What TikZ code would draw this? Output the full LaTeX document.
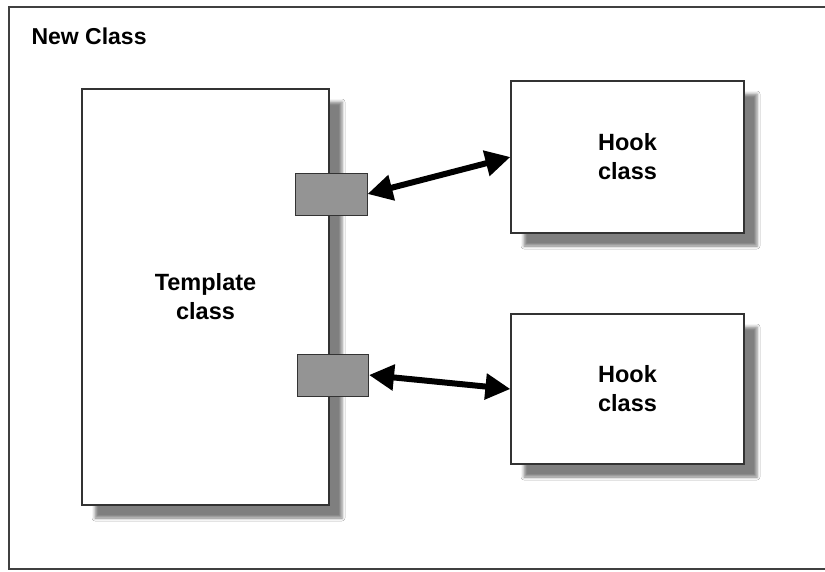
\documentclass[tikz,border=0pt]{standalone}
\usepackage{fontspec}
\setmainfont{Liberation Sans}
\usetikzlibrary{arrows.meta,shadows.blur}

\tikzset{
  classbox/.style={draw=black!80, line width=1.2pt, fill=white,
    blur shadow={shadow xshift=13pt, shadow yshift=-13pt, shadow opacity=50, shadow blur radius=3pt},
    font=\bfseries\fontsize{23.5}{29}\selectfont, align=center, inner sep=0pt},
  hookport/.style={draw=black!80, line width=1pt, fill=black!42, inner sep=0pt},
  link/.style={line width=6pt, {Triangle[length=25pt,width=25pt]}-{Triangle[length=25pt,width=25pt]}}
}

\begin{document}
\begin{tikzpicture}[x=1pt,y=-1pt]
  \useasboundingbox (0,0) rectangle (825,571);
  \clip (0,0) rectangle (825,571);
  \fill[white] (0,0) rectangle (825,571);
  \draw[line width=1.5pt, black!75] (9,7) rectangle (840,569);
  \node[anchor=west, font=\bfseries\fontsize{23}{29}\selectfont] (title) at (28,36) {New Class};

  % classes
  \node[classbox, minimum width=247pt, minimum height=416pt] (template) at (205.5,297) {Template\\class};
  \node[classbox, minimum width=233pt, minimum height=152pt] (hookA) at (627.5,157) {Hook\\class};
  \node[classbox, minimum width=233pt, minimum height=150pt] (hookB) at (627.5,389) {Hook\\class};

  % hooks on the template
  \node[hookport, minimum width=72pt, minimum height=42pt] (portA) at (331,194) {};
  \node[hookport, minimum width=71pt, minimum height=42pt] (portB) at (333,375) {};

  \draw[link] (portA.east) -- (hookA.west);
  \draw[link] (portB.east) -- (hookB.west);
\end{tikzpicture}
\end{document}
